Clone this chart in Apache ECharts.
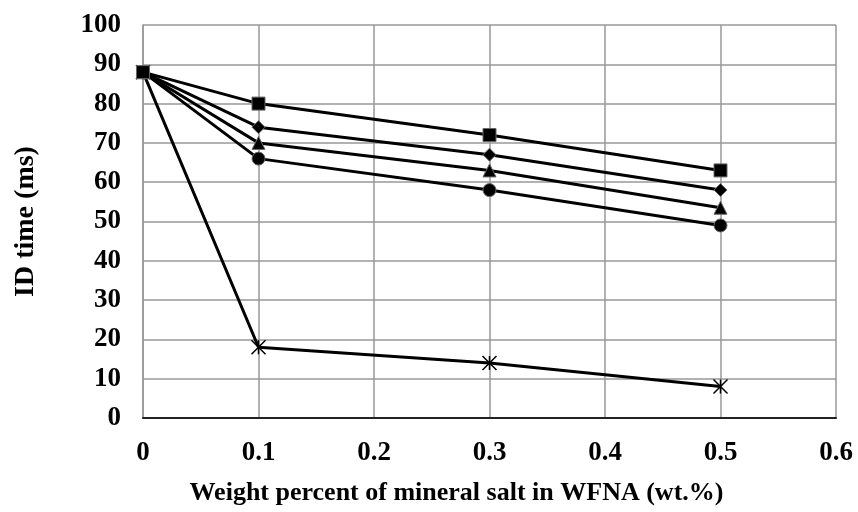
<!DOCTYPE html>
<html><head><meta charset="utf-8">
<script src="https://cdn.jsdelivr.net/npm/echarts@6/dist/echarts.min.js"></script>
<style>html,body{margin:0;padding:0;background:#fff}#c{width:858px;height:512px}</style>
</head><body><div id="c"></div>
<script>
const xValues = [0, 0.1, 0.3, 0.5];
const squareSeries = [88, 80, 72, 63];
const diamondSeries = [88, 74, 67, 58];
const triangleSeries = [88, 70, 63, 53.5];
const circleSeries = [88, 66, 58, 49];
const starSeries = [88, 18, 14, 8];

const font = 'Liberation Serif, Times New Roman, serif';
const starPath = 'path://M0,0L10,10M10,0L0,10M5,0L5,10';

function mk(name, data, symbol, size, extra) {
  return Object.assign({
    name: name, type: 'line',
    data: xValues.map((x, i) => [x, data[i]]),
    symbol: symbol, symbolSize: size,
    lineStyle: { color: '#000', width: 3 },
    itemStyle: { color: '#000', borderColor: '#666', borderWidth: 1 },
    z: 3
  }, extra || {});
}

const chart = echarts.init(document.getElementById('c'), null, { renderer: 'canvas' });
chart.setOption({
  animation: false,
  grid: { left: 143, right: 22, top: 25, bottom: 94 },
  xAxis: [{
    type: 'value', min: 0, max: 0.6, interval: 0.1,
    name: 'Weight percent of mineral salt in WFNA (wt.%)',
    nameLocation: 'middle', nameGap: 62,
    nameTextStyle: { fontFamily: font, fontWeight: 'bold', fontSize: 26, color: '#000', padding: [0, 66, 0, 0] },
    axisLine: { show: true, onZero: false, lineStyle: { color: '#999', width: 1.5 } },
    axisTick: { show: false },
    axisLabel: { fontFamily: font, fontWeight: 'bold', fontSize: 27, color: '#000', margin: 22,
      formatter: v => v === 0 ? '0' : v.toFixed(1) },
    splitLine: { show: true, lineStyle: { color: '#999', width: 1.5 } }
  }, {
    type: 'value', position: 'top', min: 0, max: 0.6,
    axisLine: { show: true, lineStyle: { color: '#222', width: 2 } },
    axisTick: { show: false }, axisLabel: { show: false }, splitLine: { show: false }
  }],
  yAxis: {
    type: 'value', min: 0, max: 100, interval: 10,
    name: 'ID time (ms)', nameLocation: 'middle', nameGap: 103, nameRotate: 90,
    nameTextStyle: { fontFamily: font, fontWeight: 'bold', fontSize: 28, color: '#000' },
    axisLine: { show: true, lineStyle: { color: '#999', width: 1.5 } },
    axisTick: { show: false },
    axisLabel: { fontFamily: font, fontWeight: 'bold', fontSize: 27, color: '#000', margin: 22 },
    splitLine: { show: true, lineStyle: { color: '#999', width: 1.5 } }
  },
  series: [
    mk('star', starSeries, starPath, 14, { itemStyle: { color: 'none', borderColor: '#000', borderWidth: 1.5 } }),
    mk('circle', circleSeries, 'circle', 13),
    mk('triangle', triangleSeries, 'triangle', 13),
    mk('diamond', diamondSeries, 'diamond', 13),
    mk('square', squareSeries, 'rect', 13)
  ]
});
</script></body></html>
